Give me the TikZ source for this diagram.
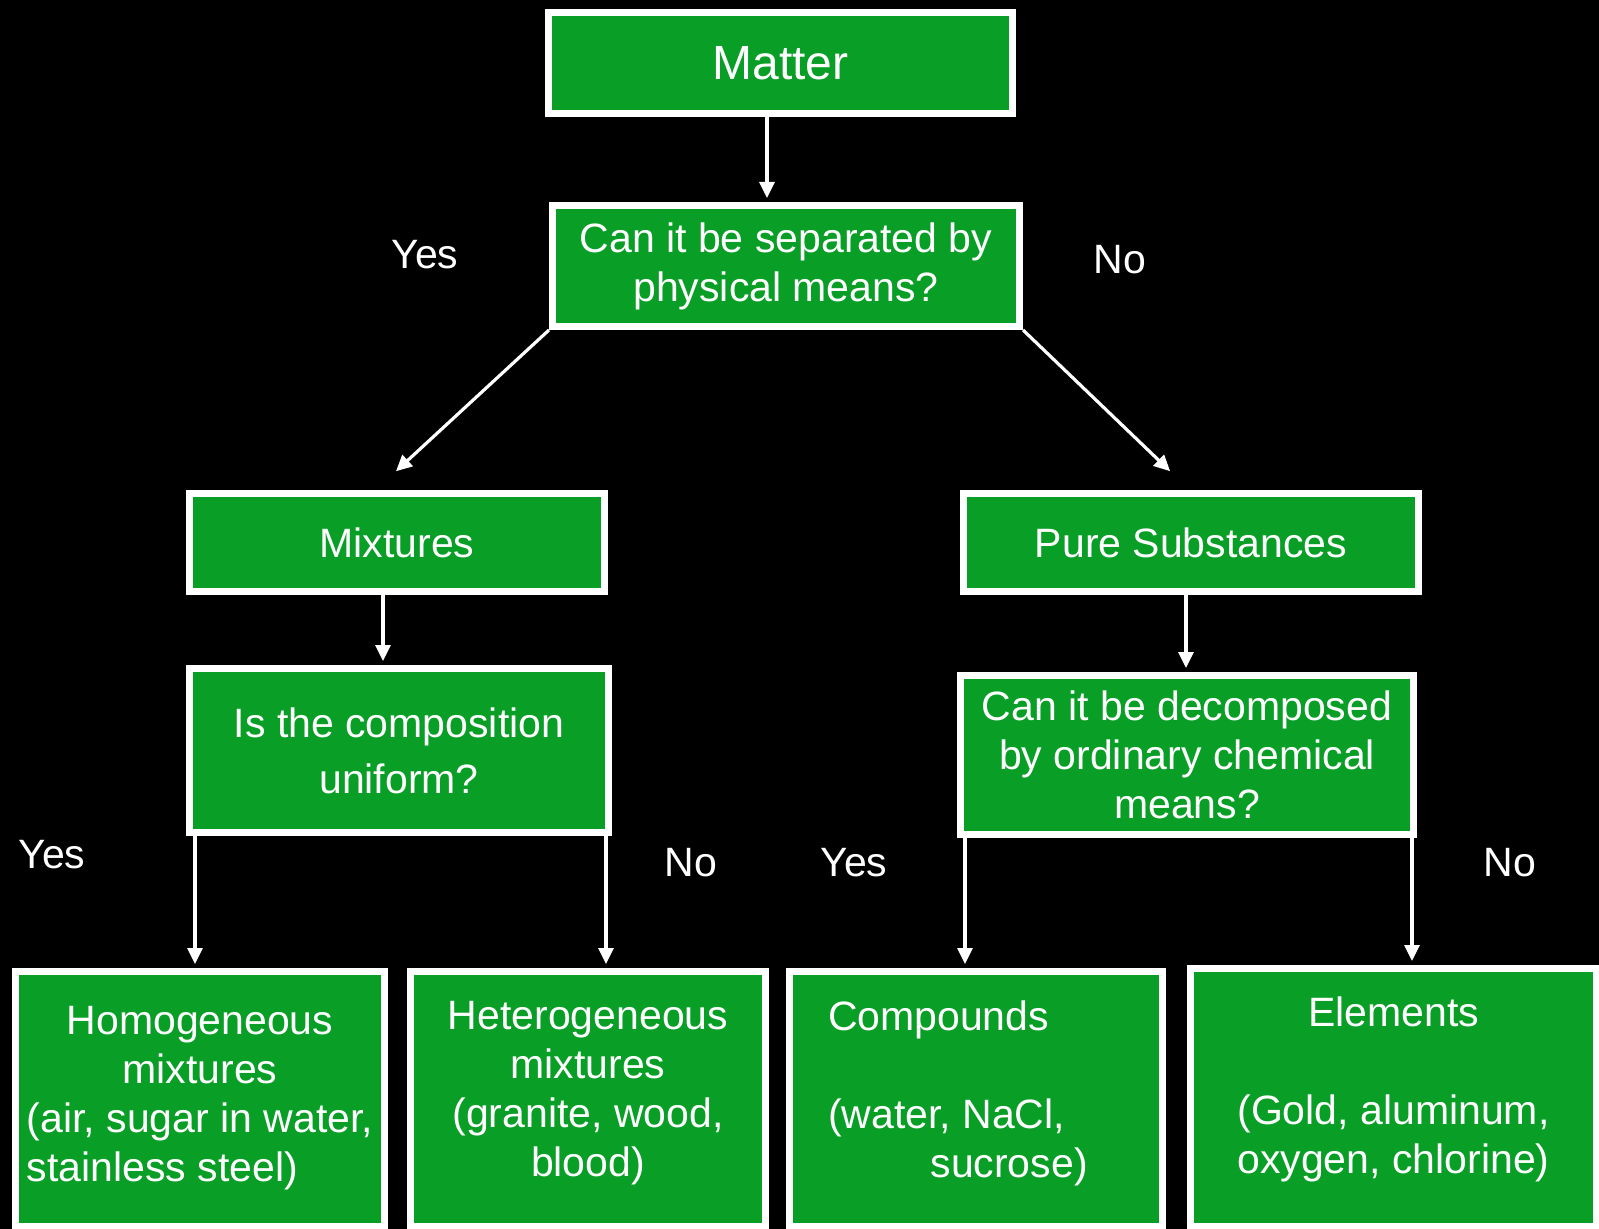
\documentclass[tikz,border=0pt]{standalone}
\usepackage{fontspec}
\setmainfont{Liberation Sans}
\usetikzlibrary{arrows.meta}
\definecolor{boxgreen}{RGB}{9,159,38}
\tikzset{
    every node/.style={text=white, font=\fontsize{20.5pt}{24.5pt}\selectfont}
}
\tikzset{
    box/.style={rectangle, draw=white, fill=boxgreen, line width=3.5pt,
    	inner sep=0pt, align=center},
    leaf/.style={box, minimum height=127.5pt, text depth=10pt}
}
\tikzset{
    every edge/.append style={draw=white, line width=1.6pt, shorten >=2pt,
    	-{Triangle[length=8pt,width=7.5pt]}}
}

\begin{document}
\begin{tikzpicture}[x=0.5pt, y=-0.5pt]
  \fill [black] (0,0) rectangle (1599,1229);
  \useasboundingbox (0,0) rectangle (1599,1229);

  \node (matter) [box, minimum width=232pt, minimum height=50.5pt,
    font=\fontsize{24pt}{28pt}\selectfont] at (780.5, 63) {Matter};
  \node (sepq) [box, minimum width=233.5pt, minimum height=60.5pt]
    at (786, 266) {Can it be separated by\\physical means?};

  \node (mixt) [box, minimum width=207.5pt, minimum height=49pt]
    at (397, 542.5) {Mixtures};
  \node (pure) [box, minimum width=227.5pt, minimum height=49pt]
    at (1191, 542.5) {Pure Substances};

  \node (unifq) [box, minimum width=209.5pt, minimum height=82pt]
    at (399, 750.5) {Is the composition\\[3.5pt]uniform?};
  \node (decq) [box, minimum width=226.5pt, minimum height=79.5pt]
    at (1187, 755) {Can it be decomposed\\by ordinary chemical\\means?};

  \node (homog) [leaf, minimum width=184.5pt, text depth=5pt] at (200, 1099)
    {Homogeneous\\mixtures\\(air, sugar in water,\\
     \rlap{stainless steel)}\phantom{(air, sugar in water,}};
  \node (hetero) [leaf, minimum width=177.5pt] at (588, 1099)
    {Heterogeneous\\mixtures\\(granite, wood,\\blood)};
  \node (comp) [leaf, minimum width=186.5pt, align=left]
    at (976, 1099) {\makebox[148pt][l]{Compounds}\\[24.5pt](water, NaCl,\\
    \hspace*{2.5em}sucrose)};
  \node (elem) [leaf, minimum width=203pt, minimum height=129pt, text depth=12pt]
    at (1393.5, 1097.5) {Elements\\[24.5pt](Gold, aluminum,\\oxygen, chlorine)};

  \node (yesA) at (425, 255) {Yes};
  \node (noA) at (1120, 260) {No};
  \node (yesB) at (52, 855) {Yes};
  \node (noB) at (691, 863) {No};
  \node (yesC) at (854, 863) {Yes};
  \node (noC) at (1510, 863) {No};

  \draw ([xshift=-6.75pt]matter.south) edge ([xshift=-9.5pt]sepq.north);
  \draw (sepq.south west) edge ([xshift=-2pt,yshift=8pt]mixt.north);
  \draw (sepq.south east) edge ([xshift=-9pt,yshift=8pt]pure.north);
  \draw ([xshift=-7pt]mixt.south) edge ([xshift=-8pt]unifq.north);
  \draw ([xshift=-2.5pt]pure.south) edge ([xshift=-0.5pt]decq.north);
  \draw ([xshift=-102pt]unifq.south) edge ([xshift=-2.5pt]homog.north);
  \draw ([xshift=103.5pt]unifq.south) edge ([xshift=9pt]hetero.north);
  \draw ([xshift=-111pt]decq.south) edge ([xshift=-5.5pt]comp.north);
  \draw ([xshift=112.5pt]decq.south) edge ([xshift=9.25pt]elem.north);
\end{tikzpicture}
\end{document}
